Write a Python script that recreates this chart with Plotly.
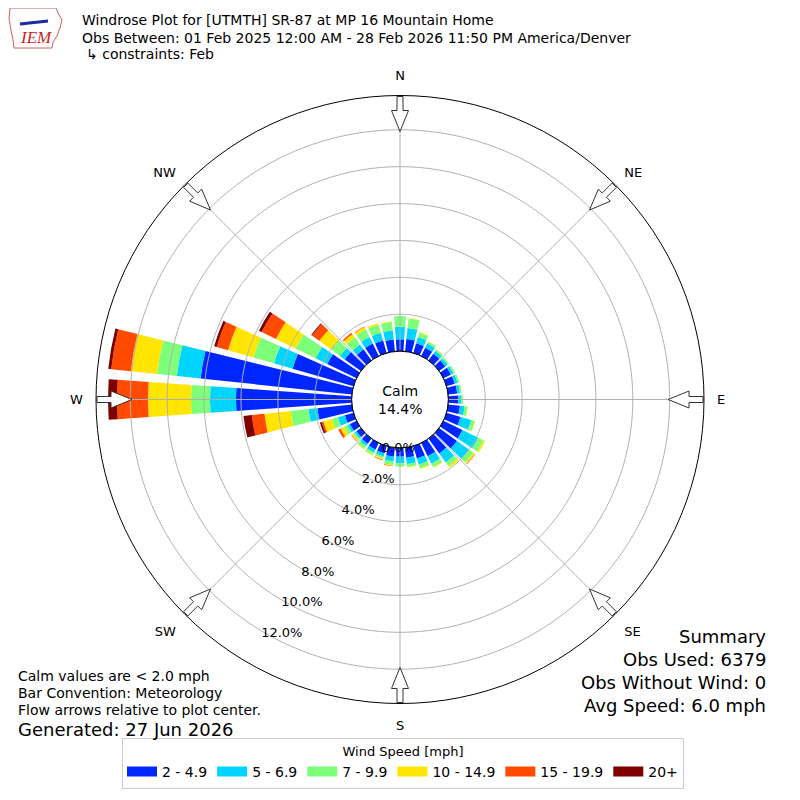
import numpy as np
import plotly.graph_objects as go

# direction bins (degrees, 10 deg wide) and speed classes
direcoes = list(range(0, 360, 10))
faixas = ['2 - 4.9', '5 - 6.9', '7 - 9.9', '10 - 14.9', '15 - 19.9', '20+']
cores = ['#0026ff', '#00d4ff', '#7dff7a', '#ffe500', '#ff4a00', '#7f0000']

# percent of observations per direction, one list per speed class
vel_2_5 = [0.64, 0.68, 0.55, 0.50, 0.45, 0.42, 0.45, 0.47, 0.50, 0.55, 0.65, 0.80,
           1.15, 1.20, 1.00, 0.80, 0.70, 0.55, 0.48, 0.50, 0.42, 0.40, 0.35, 0.30,
           0.40, 0.49, 1.88, 6.27, 8.25, 3.44, 1.77, 1.08, 0.74, 0.75, 0.70, 0.65]
vel_5_7 = [0.69, 0.60, 0.35, 0.25, 0.18, 0.16, 0.15, 0.16, 0.15, 0.15, 0.25, 0.60,
           0.95, 0.80, 0.60, 0.45, 0.35, 0.35, 0.36, 0.25, 0.17, 0.18, 0.15, 0.12,
           0.15, 0.39, 0.49, 1.41, 1.29, 1.05, 0.70, 0.32, 0.33, 0.40, 0.45, 0.50]
vel_7_10 = [0.58, 0.52, 0.25, 0.12, 0.10, 0.10, 0.10, 0.10, 0.10, 0.10, 0.15, 0.20,
            0.32, 0.30, 0.25, 0.20, 0.20, 0.15, 0.18, 0.20, 0.12, 0.14, 0.18, 0.12,
            0.21, 0.34, 0.97, 1.03, 1.08, 1.16, 1.22, 0.58, 0.48, 0.45, 0.45, 0.45]
vel_10_15 = [0.00, 0.02, 0.03, 0.03, 0.02, 0.00, 0.00, 0.00, 0.00, 0.00, 0.03, 0.03,
             0.10, 0.10, 0.10, 0.05, 0.05, 0.03, 0.00, 0.05, 0.06, 0.04, 0.04, 0.08,
             0.21, 0.48, 1.43, 2.33, 1.43, 1.43, 1.17, 0.81, 0.22, 0.15, 0.08, 0.04]
vel_15_20 = [0.00, 0.00, 0.00, 0.00, 0.00, 0.00, 0.00, 0.00, 0.00, 0.00, 0.00, 0.00,
             0.00, 0.03, 0.00, 0.00, 0.00, 0.00, 0.00, 0.02, 0.03, 0.00, 0.00, 0.03,
             0.13, 0.10, 0.69, 1.68, 1.07, 0.64, 0.86, 0.49, 0.08, 0.03, 0.00, 0.00]
vel_20 = [0.00, 0.00, 0.00, 0.00, 0.00, 0.00, 0.00, 0.00, 0.00, 0.00, 0.00, 0.00,
          0.00, 0.00, 0.00, 0.00, 0.00, 0.00, 0.00, 0.00, 0.00, 0.00, 0.00, 0.00,
          0.00, 0.10, 0.45, 0.49, 0.16, 0.14, 0.17, 0.05, 0.00, 0.00, 0.00, 0.00]
series = [vel_2_5, vel_5_7, vel_7_10, vel_10_15, vel_15_20, vel_20]

aneis = [0, 2, 4, 6, 8, 10, 12]
aneis_txt = ['0.0%', '2.0%', '4.0%', '6.0%', '8.0%', '10.0%', '12.0%']
pontos = ['N', 'NE', 'E', 'SE', 'S', 'SW', 'W', 'NW']
pontos_ang = [0, 45, 90, 135, 180, 225, 270, 315]

calmo = 14.4
obs_usadas = 6379
obs_sem_vento = 0
vel_media = 6.0

RMAX = 13.86
HOLE = 0.159
R_PX = 304
px_por_pct = R_PX * (1 - HOLE) / RMAX
hole_px = R_PX * HOLE

# the page puts the figure 8px in from the top left corner
DESL = 8


def px(x):
    return (x - DESL) / 800


def py(y):
    return 1 - (y - DESL) / 800


fig = go.Figure()

for vals, nome, cor in zip(series, faixas, cores):
    fig.add_trace(go.Barpolar(
        r=vals,
        theta=direcoes,
        width=8,
        name=nome,
        legendgroup=nome,
        showlegend=False,
        marker=dict(color=cor, line=dict(width=0)),
    ))

# gridlines drawn on top of the bars, like the original
circ_r, circ_t = [], []
for a in aneis[1:]:
    t = list(range(0, 361))
    circ_r += [a] * len(t) + [None]
    circ_t += t + [None]
for a in pontos_ang:
    circ_r += [0, RMAX, None]
    circ_t += [a, a, None]
fig.add_trace(go.Scatterpolar(r=circ_r, theta=circ_t, mode='lines',
                              line=dict(color='#b0b0b0', width=1),
                              showlegend=False, hoverinfo='skip'))

# edge of the calm hole
fig.add_trace(go.Scatterpolar(r=[0] * 361, theta=list(range(0, 361)), mode='lines',
                              line=dict(color='black', width=1),
                              showlegend=False, hoverinfo='skip'))

# flow arrows at the compass points, pointing to the center
forma = [(303, -3), (289, -3), (289, -8.5), (268, 0), (289, 8.5), (289, 3), (303, 3), (303, -3)]
for a in pontos_ang:
    rr, tt = [], []
    for p, w in forma:
        rpx = np.hypot(p, w)
        rr.append((rpx - hole_px) / px_por_pct)
        tt.append(a + np.degrees(np.arctan2(w, p)))
    fig.add_trace(go.Scatterpolar(r=rr, theta=tt, mode='lines', fill='toself',
                                  fillcolor='white',
                                  line=dict(color='#333333', width=1),
                                  showlegend=False, hoverinfo='skip'))

# legend entries as wide colour patches
for nome, cor in zip(faixas, cores):
    fig.add_trace(go.Scatterpolar(r=[None], theta=[None], mode='lines', name=nome,
                                  legendgroup=nome,
                                  line=dict(color=cor, width=10)))

cx, cy = 400, 399.5
fig.update_layout(
    width=800,
    height=800,
    margin=dict(l=0, r=0, t=0, b=0),
    paper_bgcolor='white',
    font=dict(family='DejaVu Sans', color='black', size=13),
    polar=dict(
        domain=dict(x=[px(cx - R_PX), px(cx + R_PX)], y=[py(cy + R_PX), py(cy - R_PX)]),
        hole=HOLE,
        bgcolor='white',
        barmode='stack',
        radialaxis=dict(
            range=[0, RMAX],
            showgrid=False,
            showline=False,
            ticks='',
            tickvals=aneis,
            ticktext=aneis_txt,
            tickfont=dict(size=13),
            angle=237,
            tickangle=-123,
            side='counterclockwise',
        ),
        angularaxis=dict(
            rotation=90,
            direction='clockwise',
            tickvals=pontos_ang,
            ticktext=pontos,
            showgrid=False,
            showline=True,
            linecolor='black',
            linewidth=1,
            ticks='outside',
            ticklen=10,
            tickcolor='rgba(0,0,0,0)',
            tickfont=dict(size=13),
        ),
    ),
    legend=dict(
        orientation='h',
        x=px(403), xanchor='center',
        y=py(789), yanchor='bottom',
        title=dict(text='Wind Speed [mph]', side='top center', font=dict(size=13)),
        bordercolor='#cccccc',
        borderwidth=1,
        bgcolor='white',
        font=dict(size=14),
        itemwidth=30,
    ),
)

textos = [
    ('Windrose Plot for [UTMTH] SR-87 at MP 16 Mountain Home', 80, 20, 14, 'left'),
    ('Obs Between: 01 Feb 2025 12:00 AM - 28 Feb 2026 11:50 PM America/Denver', 80, 38, 14, 'left'),
    ('\u21b3 constraints: Feb', 84, 54, 14, 'left'),
    ('Calm values are < 2.0 mph', 16, 676, 14, 'left'),
    ('Bar Convention: Meteorology', 16, 693, 14, 'left'),
    ('Flow arrows relative to plot center.', 16, 710, 14, 'left'),
    ('Generated: 27 Jun 2026', 16, 729, 18, 'left'),
    ('Summary', 768, 636, 18, 'right'),
    (f'Obs Used: {obs_usadas}', 768, 659, 18, 'right'),
    (f'Obs Without Wind: {obs_sem_vento}', 768, 682, 18, 'right'),
    (f'Avg Speed: {vel_media:.1f} mph', 768, 705, 18, 'right'),
]
for txt, x, y, tam, al in textos:
    fig.add_annotation(text=txt, x=px(x), y=py(y), xref='paper', yref='paper',
                       xanchor=al, yanchor='middle', showarrow=False,
                       font=dict(size=tam))

fig.add_annotation(text=f'Calm<br>{calmo:.1f}%', x=px(cx), y=py(cy), xref='paper', yref='paper',
                   xanchor='center', yanchor='middle', showarrow=False, font=dict(size=14))

# IEM logo, roughly
fig.add_annotation(text='<i>IEM</i>', x=px(36), y=py(38), xref='paper', yref='paper',
                   xanchor='center', yanchor='middle', showarrow=False,
                   font=dict(family='Liberation Serif', size=17, color='#cc2222'))
contorno = [(10, 8), (56, 8), (58, 13), (62, 20), (60, 28), (57, 36), (53, 42), (52, 48), (14, 48), (13, 40), (11, 30), (9, 18)]
caminho = 'M ' + ' L '.join(f'{px(x):.4f},{py(y):.4f}' for x, y in contorno) + ' Z'
fig.add_shape(type='path', path=caminho, xref='paper', yref='paper',
              line=dict(color='#d06060', width=1))
fig.add_shape(type='line', x0=px(20), y0=py(24), x1=px(48), y1=py(21), xref='paper', yref='paper',
              line=dict(color='#1a2aa0', width=3))

fig.write_html("out.html")
